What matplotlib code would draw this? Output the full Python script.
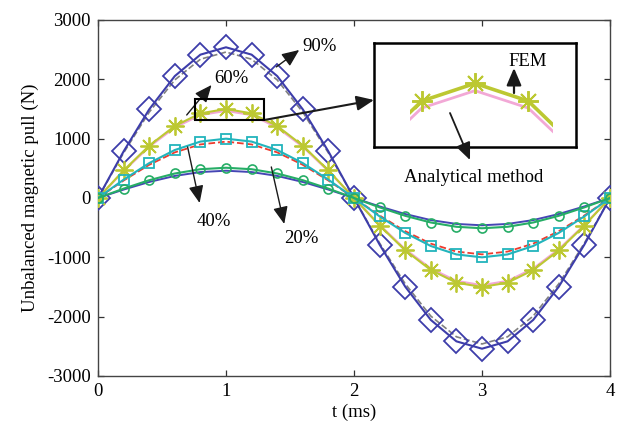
import matplotlib
matplotlib.use("Agg")
import matplotlib.pyplot as plt
from matplotlib.patches import Rectangle

# time axis (ms), FEM samples every 0.2 ms
t = [0.0, 0.2, 0.4, 0.6, 0.8, 1.0, 1.2, 1.4, 1.6, 1.8, 2.0,
     2.2, 2.4, 2.6, 2.8, 3.0, 3.2, 3.4, 3.6, 3.8, 4.0]

# 90% eccentricity
fem_90 = [0, 785, 1494, 2055, 2416, 2540, 2416, 2055, 1494, 785, 0,
          -785, -1494, -2055, -2416, -2540, -2416, -2055, -1494, -785, 0]
ana_90 = [0, 760, 1446, 1990, 2339, 2460, 2339, 1990, 1446, 760, 0,
          -760, -1446, -1990, -2339, -2460, -2339, -1990, -1446, -760, 0]
# 60% eccentricity
fem_60 = [0, 464, 882, 1214, 1427, 1500, 1427, 1214, 882, 464, 0,
          -464, -882, -1214, -1427, -1500, -1427, -1214, -882, -464, 0]
ana_60 = [0, 454, 864, 1189, 1398, 1470, 1398, 1189, 864, 454, 0,
          -454, -864, -1189, -1398, -1470, -1398, -1189, -864, -454, 0]
# 40% eccentricity
fem_40 = [0, 309, 588, 809, 951, 1000, 951, 809, 588, 309, 0,
          -309, -588, -809, -951, -1000, -951, -809, -588, -309, 0]
ana_40 = [0, 294, 559, 769, 903, 950, 903, 769, 559, 294, 0,
          -294, -559, -769, -903, -950, -903, -769, -559, -294, 0]
# 20% eccentricity
fem_20 = [0, 158, 300, 413, 485, 510, 485, 413, 300, 158, 0,
          -158, -300, -413, -485, -510, -485, -413, -300, -158, 0]
ana_20 = [0, 142, 270, 372, 437, 460, 437, 372, 270, 142, 0,
          -142, -270, -372, -437, -460, -437, -372, -270, -142, 0]

C_90 = "#3d3daa"
C_60 = "#bcc832"
C_60A = "#f2a8d6"
C_40 = "#22b4bc"
C_40A = "#ee3b2e"
C_20 = "#26ad66"
C_20A = "#4646b4"
C_90A = "#808080"

ASTERISK = (8, 2, 0)

W, H = 618, 433
plt.rcParams["font.family"] = ["Liberation Serif", "DejaVu Serif"]
plt.rcParams["font.size"] = 13.5
plt.rcParams["axes.unicode_minus"] = False
plt.rcParams["xtick.direction"] = "in"
plt.rcParams["ytick.direction"] = "in"


def fpx(x, y):
    # pixel position -> figure fraction
    return (x / W, 1 - y / H)


fig = plt.figure(figsize=(W / 100, H / 100), dpi=100)
ax = fig.add_axes([98 / W, 1 - 376 / H, 512 / W, 356 / H])

# analytical curves
ax.plot(t, ana_90, color=C_90A, lw=1.2, ls="--", zorder=2)
ax.plot(t, ana_60, color=C_60A, lw=1.6, zorder=2)
ax.plot(t, ana_40, color=C_40A, lw=1.3, ls="--", zorder=2)
ax.plot(t, ana_20, color=C_20A, lw=1.4, zorder=2)

# FEM curves
ax.plot(t, fem_90, color=C_90, lw=1.5, marker="D", ms=12, mfc="none", mew=1.3, zorder=3)
ax.plot(t, fem_60, color=C_60, lw=1.5, marker=ASTERISK, ms=13, mew=1.3, zorder=3)
ax.plot(t, fem_40, color=C_40, lw=1.5, marker="s", ms=7.5, mfc="none", mew=1.3, zorder=3)
ax.plot(t, fem_20, color=C_20, lw=1.5, marker="o", ms=6.5, mfc="none", mew=1.2, zorder=3)

ax.set_xlim(0, 4)
ax.set_ylim(-3000, 3000)
ax.set_xticks([0, 1, 2, 3, 4])
ax.set_yticks([-3000, -2000, -1000, 0, 1000, 2000, 3000])
ax.tick_params(top=True, right=True, length=4, width=0.9, pad=5, color="#333333")
for sp in ax.spines.values():
    sp.set_color("#444444")
    sp.set_linewidth(1.0)
ax.set_xlabel("t (ms)", labelpad=3)
ax.set_ylabel("Unbalanced magnetic pull (N)", labelpad=6)

arrow = dict(arrowstyle="-|>,head_length=0.7,head_width=0.3", color="#1a1a1a",
             lw=1.0, mutation_scale=15, shrinkA=0, shrinkB=0)

# level labels
ax.annotate("", xy=(1.572, 2495), xytext=(1.393, 2209), arrowprops=arrow)
ax.text(1.595, 2554, "90%", va="center", ha="left")
ax.annotate("", xy=(0.887, 1905), xytext=(0.693, 1399), arrowprops=arrow)
ax.text(0.911, 2006, "60%", va="center", ha="left")
ax.annotate("", xy=(0.794, -84), xytext=(0.70, 860), arrowprops=arrow)
ax.text(0.903, -388, "40%", va="center", ha="center")
ax.annotate("", xy=(1.455, -438), xytext=(1.354, 523), arrowprops=arrow)
ax.text(1.588, -691, "20%", va="center", ha="center")

# zoom window around the 60% peak
ax.add_patch(Rectangle((0.755, 1315), 0.545, 354, fill=False, ec="black", lw=1.5, zorder=5))
ax.annotate("", xy=fpx(374, 100), xycoords="figure fraction",
            xytext=(1.30, 1315), textcoords="data",
            arrowprops=dict(arrow, lw=1.5), annotation_clip=False)

# inset: enlarged 60% peak
ins = fig.add_axes([374 / W, 1 - 147 / H, 202 / W, 104 / H])
clip = Rectangle((0.756, 1000), 0.537, 1000, transform=ins.transData)
la, = ins.plot(t, ana_60, color=C_60A, lw=2.0)
lf, = ins.plot(t, fem_60, color=C_60, lw=2.6, marker=ASTERISK, ms=15, mew=1.4)
la.set_clip_path(clip)
lf.set_clip_path(clip)
ins.set_xlim(0.621, 1.379)
ins.set_ylim(1237, 1667)
ins.set_xticks([])
ins.set_yticks([])
for sp in ins.spines.values():
    sp.set_linewidth(1.8)
    sp.set_color("black")

ins.text(*fpx(508, 62), "FEM", va="center", ha="left", transform=fig.transFigure)
ins.annotate("", xy=fpx(514, 68), xycoords="figure fraction",
             xytext=fpx(514, 93), textcoords="figure fraction",
             arrowprops=dict(arrow, lw=1.6), annotation_clip=False)
ins.annotate("", xy=fpx(470, 160), xycoords="figure fraction",
             xytext=fpx(450, 113), textcoords="figure fraction",
             arrowprops=dict(arrow, lw=1.3), annotation_clip=False)
fig.text(*fpx(474, 178), "Analytical method", va="center", ha="center")

fig.savefig("out.png", dpi=100)
plt.close(fig)
